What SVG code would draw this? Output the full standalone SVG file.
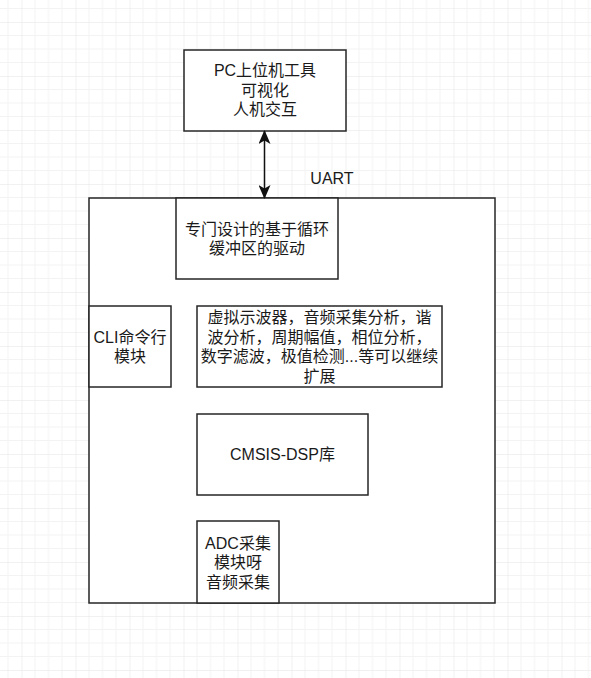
<svg xmlns="http://www.w3.org/2000/svg" width="591" height="678" viewBox="0 0 591 678">
  <defs>
    <pattern id="grid" patternUnits="userSpaceOnUse" x="21.5" y="22" width="54" height="54">
      <path d="M13.5 0V54M27 0V54M40.5 0V54M0 13.5H54M0 27H54M0 40.5H54" stroke="#f3f3f3" stroke-width="1" fill="none"/>
      <path d="M0 0V54M0 0H54" stroke="#e4e4e4" stroke-width="1" fill="none"/>
    </pattern>
    <marker id="arr" viewBox="0 0 14 12" refX="13" refY="6" markerWidth="14" markerHeight="12" markerUnits="userSpaceOnUse" orient="auto-start-reverse">
      <path d="M0 0L14 6L0 12L3.5 6Z" fill="#111"/>
    </marker>
    <style>
      .box{fill:#fff;stroke:#262626;stroke-width:1.5}
      .t{font-family:"Liberation Sans","Noto Sans CJK SC",sans-serif;font-size:16px;fill:#1a1a1a;text-anchor:middle;dominant-baseline:central}
    </style>
  </defs>
  <rect width="591" height="678" fill="#fff"/>
  <rect width="591" height="678" fill="url(#grid)"/>

  <g id="outer">
    <rect class="box" x="89" y="198" width="406" height="405"/>
  </g>
  <g id="pc">
    <rect class="box" x="184" y="50" width="162" height="81"/>
    <text class="t" x="265" y="70.5">PC上位机工具</text>
    <text class="t" x="265" y="90">可视化</text>
    <text class="t" x="265" y="109.5">人机交互</text>
  </g>
  <g id="driver">
    <rect class="box" x="176" y="198" width="162" height="81"/>
    <text class="t" x="257" y="229">专门设计的基于循环</text>
    <text class="t" x="257" y="248.5">缓冲区的驱动</text>
  </g>
  <g id="cli">
    <rect class="box" x="89" y="306" width="82" height="81"/>
    <text class="t" x="130" y="337">CLI命令行</text>
    <text class="t" x="130" y="356.5">模块</text>
  </g>
  <g id="features">
    <rect class="box" x="197" y="306" width="245" height="81"/>
    <text class="t" x="319.5" y="317.5">虚拟示波器，音频采集分析，谐</text>
    <text class="t" x="319.5" y="337">波分析，周期幅值，相位分析，</text>
    <text class="t" x="319.5" y="356.5">数字滤波，极值检测...等可以继续</text>
    <text class="t" x="319.5" y="376">扩展</text>
  </g>
  <g id="cmsis">
    <rect class="box" x="197" y="414" width="171" height="81"/>
    <text class="t" x="282.5" y="454">CMSIS-DSP库</text>
  </g>
  <g id="adc">
    <rect class="box" x="197" y="521" width="82" height="82"/>
    <text class="t" x="238" y="543">ADC采集</text>
    <text class="t" x="238" y="562.5">模块呀</text>
    <text class="t" x="238" y="582">音频采集</text>
  </g>

  <g id="connectors">
    <line x1="264.5" y1="131" x2="264.5" y2="198" stroke="#111" stroke-width="1.5" marker-start="url(#arr)" marker-end="url(#arr)"/>
    <text class="t" x="332" y="178">UART</text>
  </g>
</svg>
